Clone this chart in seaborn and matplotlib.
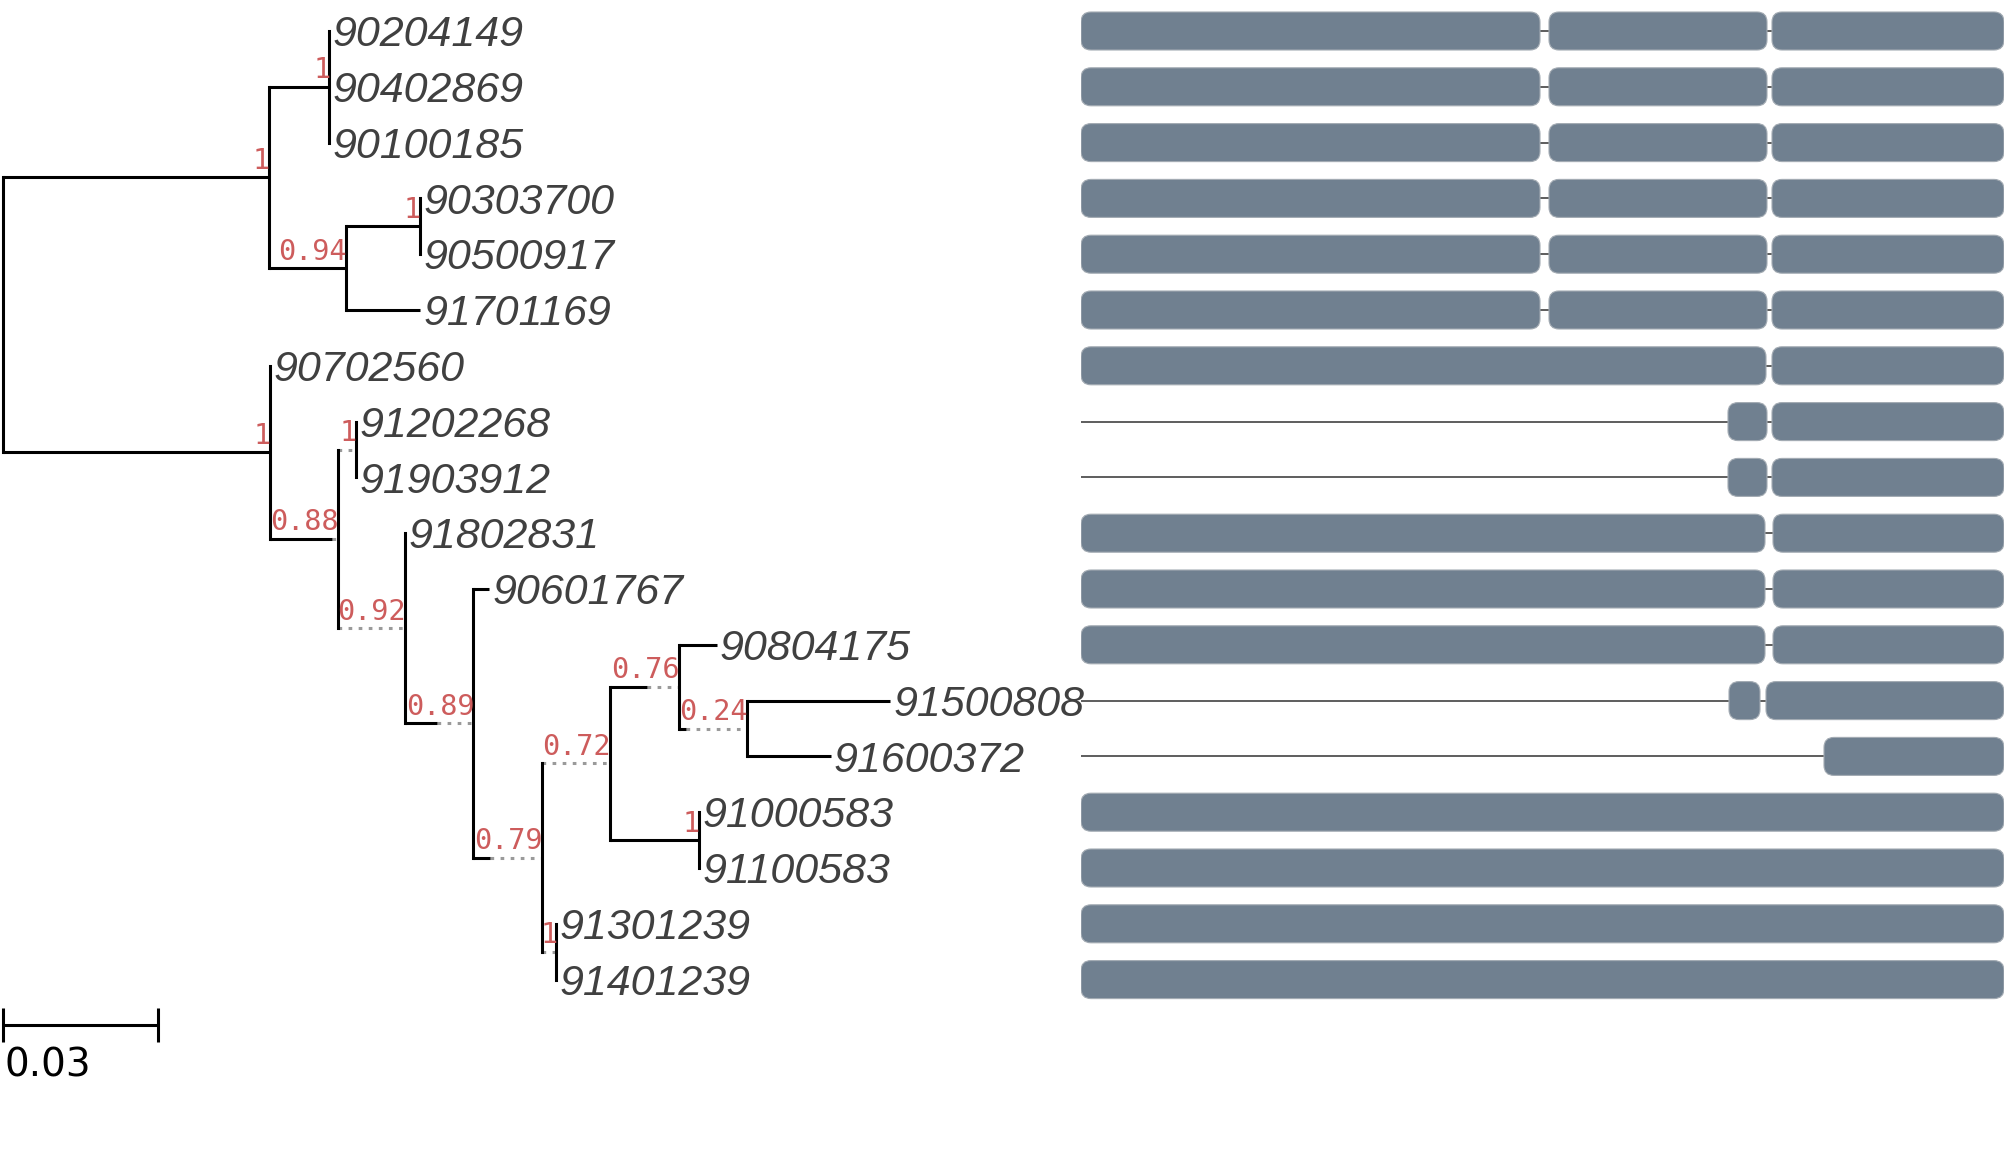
import numpy as np
import pandas as pd
import matplotlib
matplotlib.use("Agg")
import matplotlib.pyplot as plt
from matplotlib.patches import FancyBboxPatch
import seaborn as sns

# ---------------- data ----------------
taxa = ["90204149", "90402869", "90100185", "90303700", "90500917", "91701169",
        "90702560", "91202268", "91903912", "91802831", "90601767", "90804175",
        "91500808", "91600372", "91000583", "91100583", "91301239", "91401239"]

# internal nodes: id, parent, layout depth, end of solid part of branch, support
node_ids = ["root", "A", "A1", "A2", "A2a", "B", "B1", "B1a", "B2", "B3",
            "B4", "B5", "B6", "B7", "B8", "B9"]
node_parent = [None, "root", "A", "A", "A2", "root", "B", "B1", "B1", "B2",
               "B3", "B4", "B5", "B6", "B5", "B4"]
node_depth = [0.0, 0.05146, 0.06311, 0.06627, 0.08063, 0.05165, 0.06473, 0.06826,
              0.07773, 0.09092, 0.10413, 0.11733, 0.13065, 0.14373, 0.13452, 0.10697]
node_solid = [None, None, None, None, None, None, 0.06363, 0.06473,
              0.06473, 0.08385, 0.09415, 0.10413, 0.12442, 0.13208, None, 0.10413]
node_support = [None, 1, 1, 0.94, 1, 1, 0.88, 1, 0.92, 0.89, 0.79, 0.72, 0.76,
                0.24, 1, 1]

leaf_parent = ["A1", "A1", "A1", "A2a", "A2a", "A2", "B", "B1a", "B1a", "B2",
               "B3", "B6", "B7", "B7", "B8", "B8", "B9", "B9"]
leaf_depth = [0.06311, 0.06311, 0.06311, 0.08063, 0.08063, 0.08063, 0.05165,
              0.06826, 0.06826, 0.07773, 0.09401, 0.13794, 0.17141, 0.15995,
              0.13452, 0.13452, 0.10697, 0.10697]

scale_value = 0.03
scale_label = "0.03"

# alignment blocks (start, end) per taxon, alignment length
aln_length = 923
aln_blocks = [
    [(0, 459), (468, 686), (691, 923)],
    [(0, 459), (468, 686), (691, 923)],
    [(0, 459), (468, 686), (691, 923)],
    [(0, 459), (468, 686), (691, 923)],
    [(0, 459), (468, 686), (691, 923)],
    [(0, 459), (468, 686), (691, 923)],
    [(0, 685), (691, 923)],
    [(647, 686), (691, 923)],
    [(647, 686), (691, 923)],
    [(0, 684), (692, 923)],
    [(0, 684), (692, 923)],
    [(0, 684), (692, 923)],
    [(648, 679), (685, 923)],
    [(743, 923)],
    [(0, 923)],
    [(0, 923)],
    [(0, 923)],
    [(0, 923)],
]

# ---------------- style ----------------
sns.set_theme(style="white")
plt.rcParams["font.family"] = ["DejaVu Sans"]

W, H = 2007, 1164
fig = plt.figure(figsize=(W / 100, H / 100), dpi=100)
fig.patch.set_facecolor("white")

px_per_unit = 5177.0   # tree scale
x0_px = 2.6
row0_px, row_px = 31.0, 55.8
ylim = ((H - row0_px) / row_px, -row0_px / row_px)

ax = fig.add_axes([0, 0, 1, 1])
ax.set_xlim(-x0_px / px_per_unit, (W - x0_px) / px_per_unit)
ax.set_ylim(*ylim)
ax.axis("off")

# ---------------- tree layout ----------------
depth = dict(zip(node_ids, node_depth))
solid = dict(zip(node_ids, node_solid))
support = dict(zip(node_ids, node_support))
parent = dict(zip(node_ids, node_parent))
children = {n: [] for n in node_ids}
for n, p in zip(node_ids, node_parent):
    if p is not None:
        children[p].append(("node", n))
for i, p in enumerate(leaf_parent):
    children[p].append(("leaf", i))

ypos = {}


def node_y(n):
    ys = []
    for kind, c in children[n]:
        ys.append(float(c) if kind == "leaf" else node_y(c))
    ypos[n] = (min(ys) + max(ys)) / 2
    return ypos[n]


node_y("root")

lw = 2.2
black = "black"
dot_style = (0, (1.2, 2.1))

for n in node_ids:
    # vertical connector
    ys = [float(c) if k == "leaf" else ypos[c] for k, c in children[n]]
    ax.plot([depth[n], depth[n]], [min(ys), max(ys)], color=black, lw=lw,
            solid_capstyle="projecting", zorder=3)
    p = parent[n]
    if p is None:
        continue
    y = ypos[n]
    s_end = solid[n] if solid[n] is not None else depth[n]
    if s_end > depth[p]:
        ax.plot([depth[p], s_end], [y, y], color=black, lw=lw,
                solid_capstyle="butt", zorder=3)
    if s_end < depth[n]:
        ax.plot([s_end, depth[n]], [y, y], color="#9a9a9a", lw=lw,
                linestyle=dot_style, zorder=2)
    val = support[n]
    txt = "1" if val == 1 else f"{val:.2f}"
    ax.annotate(txt, (depth[n], y), xytext=(0.7, 6.1), textcoords="offset points",
                ha="right", va="baseline", family="DejaVu Sans Mono",
                fontsize=20.5, color="indianred", zorder=4)

for i, name in enumerate(taxa):
    p = leaf_parent[i]
    if leaf_depth[i] > depth[p]:
        ax.plot([depth[p], leaf_depth[i]], [i, i], color=black, lw=lw,
                solid_capstyle="butt", zorder=3)
    ax.annotate(name, (leaf_depth[i], i), xytext=(2.2, -11.0),
                textcoords="offset points", ha="left", va="baseline",
                family=["Liberation Sans", "DejaVu Sans"], fontstyle="italic",
                fontsize=31, color="#404040", zorder=4)

# scale bar
sb_y = len(taxa) - 0.19
tick = 0.305
ax.plot([0, scale_value], [sb_y, sb_y], color=black, lw=lw, solid_capstyle="butt")
for xv in (0, scale_value):
    ax.plot([xv, xv], [sb_y - tick, sb_y + tick], color=black, lw=lw,
            solid_capstyle="butt")
ax.annotate(scale_label, (0, sb_y), xytext=(1.5, -37.4), textcoords="offset points",
            ha="left", va="baseline", family="DejaVu Sans", fontsize=28,
            color="black")

# ---------------- alignment panel ----------------
aln_left_px = 1081
ax2 = fig.add_axes([aln_left_px / W, 0, aln_length / W, 1])
ax2.patch.set_alpha(0)

df = pd.DataFrame({
    "taxon": np.repeat(taxa, 2),
    "pos": np.tile([0, aln_length], len(taxa)),
    "row": np.repeat(np.arange(len(taxa)), 2).astype(float),
})
sns.lineplot(data=df, x="pos", y="row", units="taxon", estimator=None,
             color="#505050", lw=1.3, legend=False, ax=ax2, zorder=1)

bar_h = 38 / row_px
aspect = 1.0 / row_px  # rows per px / x-units per px (x units are px here)
for i, blocks in enumerate(aln_blocks):
    for s, e in blocks:
        patch = FancyBboxPatch((s, i - bar_h / 2), e - s, bar_h,
                               boxstyle="round,pad=0,rounding_size=10",
                               mutation_aspect=aspect, facecolor="#708090",
                               edgecolor="#a3abb3", lw=0.8, zorder=3)
        ax2.add_patch(patch)

ax2.set_xlim(0, aln_length)
ax2.set_ylim(*ylim)
ax2.axis("off")

fig.savefig("out.png", dpi=100, facecolor="white")
